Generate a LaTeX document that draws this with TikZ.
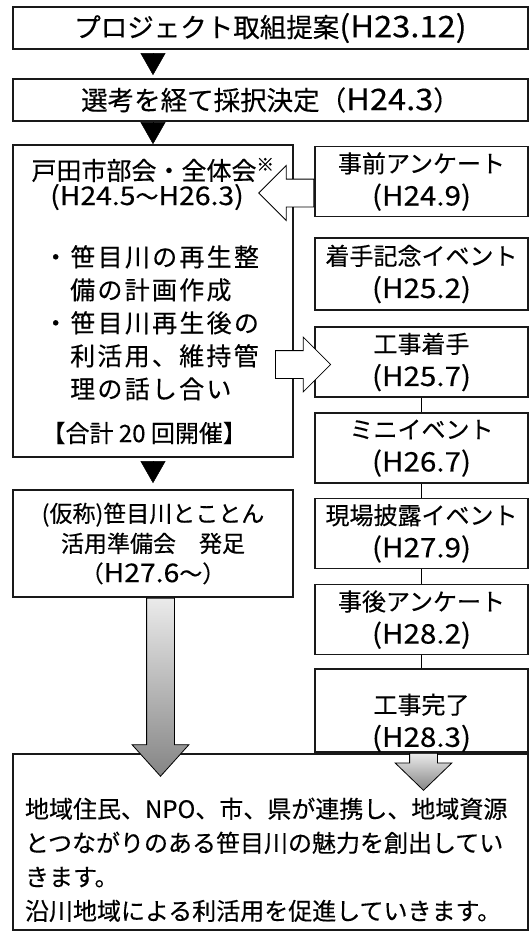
\documentclass[tikz,border=0pt]{standalone}
\usepackage{fontspec}
\setmainfont{Noto Sans CJK JP}[FakeBold=0.3]
\newfontfamily\hwfont[Scale=1.12,FakeStretch=1.1,FakeBold=0.3]{Noto Sans CJK JP}
\newcommand{\hw}[1]{{\hwfont #1}}
\usetikzlibrary{arrows.meta}
\usetikzlibrary{calc}
\usetikzlibrary{positioning}
\usetikzlibrary{shapes.arrows}

\begin{document}
\begin{tikzpicture}[x=1pt,y=1pt,
    box/.style={draw=black!90, line width=1.7pt, fill=white, align=center, inner sep=0pt},
    wide/.style={box, minimum width=515pt, minimum height=42pt, font=\fontsize{26.5}{30}\selectfont},
    evbox/.style={box, minimum width=213pt, minimum height=70pt, font=\fontsize{24}{33}\selectfont},
    flow/.style={-{Triangle[width=25pt,length=22pt]}, line width=0.4pt},
    link/.style={line width=1.7pt},
    hollow/.style={single arrow, draw, line width=0.8pt, fill=white, inner xsep=0pt, inner ysep=13.5pt,
      minimum height=55pt, single arrow head extend=13.5pt},
    shade arrow/.style={single arrow, draw, line width=0.8pt, inner xsep=13.5pt, inner ysep=0pt,
      top color=black!8, bottom color=black!48,
      single arrow head extend=14.5pt, single arrow tip angle=84, shape border rotate=270}]

  \useasboundingbox (0,0) rectangle (531,-932);

  % top row
  \node[wide] (teian) at (270.5,-28) {プロジェクト取組提案\hw{(H23.12)}};
  \node[wide] (senko) at (270.5,-100) {選考を経て採択決定（\hw{H24.3}）};

  % left column
  \node[box, minimum width=280pt, minimum height=312pt] (bukai) at (153,-301) {};
  \node[font=\fontsize{25}{30}\selectfont] (bukaiTtl) at (153,-170) {戸田市部会・全体会\textsuperscript{※}};
  \node[font=\fontsize{23}{28}\selectfont] (bukaiTerm) at (147,-197) {\hw{(H24.5}～\hw{H26.3)}};
  \node[anchor=north west, align=left, inner sep=0pt,
    font=\fontsize{25}{33}\selectfont\addfontfeature{LetterSpace=9}] (bukaiBody) at (43,-245)
    {・笹目川の再生整\\\hspace*{27pt}備の計画作成\\・笹目川再生後の\\\hspace*{27pt}利活用、維持管\\\hspace*{27pt}理の話し合い};
  \node[anchor=west, font=\fontsize{24}{28}\selectfont] (bukaiSum) at (38,-433) {【合計 20 回開催】};

  \node[box, minimum width=280pt, minimum height=107pt, font=\fontsize{23}{30}\selectfont] (kasho) at (153,-543.5)
    {(仮称)笹目川とことん\\活用準備会　発足\\（\hw{H27.6}～）};

  \draw[flow, shorten <=5pt, shorten >=3pt] (teian.south -| bukai.north) -- (senko.north -| bukai.north);
  \draw[flow, shorten <=2pt] (senko.south -| bukai.north) -- (bukai.north);
  \draw[flow, shorten <=5pt, shorten >=6pt] (bukai.south) -- (kasho.north);

  % right column
  \node[evbox] (jizen) at (421.5,-181.5) {事前アンケート\\\hw{(H24.9)}};
  \node[evbox, minimum height=72pt] (kinen) at (421.5,-274) {着手記念イベント\\\hw{(H25.2)}};
  \node[evbox] (koji) at (421.5,-362) {工事着手\\\hw{(H25.7)}};
  \node[evbox, below=14.5pt of koji] (mini) {ミニイベント\\\hw{(H26.7)}};
  \node[evbox, below=13.5pt of mini] (hiro) {現場披露イベント\\\hw{(H27.9)}};
  \node[evbox, below=14.5pt of hiro] (jigo) {事後アンケート\\\hw{(H28.2)}};
  \node[evbox, below=12.5pt of jigo] (kanryo) {\rule{0pt}{45pt}工事完了\\\hw{(H28.3)}};
  \foreach \a/\b in {koji/mini, mini/hiro, hiro/jigo, jigo/kanryo}
    \draw[link] (\a) -- (\b);

  \node[hollow, shape border rotate=180, anchor=tail] (toBukai) at ($(jizen.west)+(0,-11.5)$) {};
  \node[hollow, anchor=tip] (toKoji) at ($(koji.west)+(17,-2.5)$) {};

  % bottom
  \node[box, line width=2.4pt, minimum width=515pt, minimum height=176pt, text width=491pt,
    inner xsep=12pt, align=left, font=\fontsize{24}{34}\selectfont] (matome) at (270.5,-842)
    {\rule{0pt}{56pt}地域住民、NPO、市、県が連携し、地域資源\\
     とつながりのある笹目川の魅力を創出してい\\
     きます。\\
     沿川地域による利活用を促進していきます。};

  \node[shade arrow, minimum height=178pt, anchor=tail] (kashoArr) at ($(kasho.south)+(7.5,0)$) {};
  \node[shade arrow, minimum height=37pt, single arrow tip angle=92, anchor=tail] (kanryoArr) at ($(kanryo.south)+(2,0)$) {};
\end{tikzpicture}
\end{document}
